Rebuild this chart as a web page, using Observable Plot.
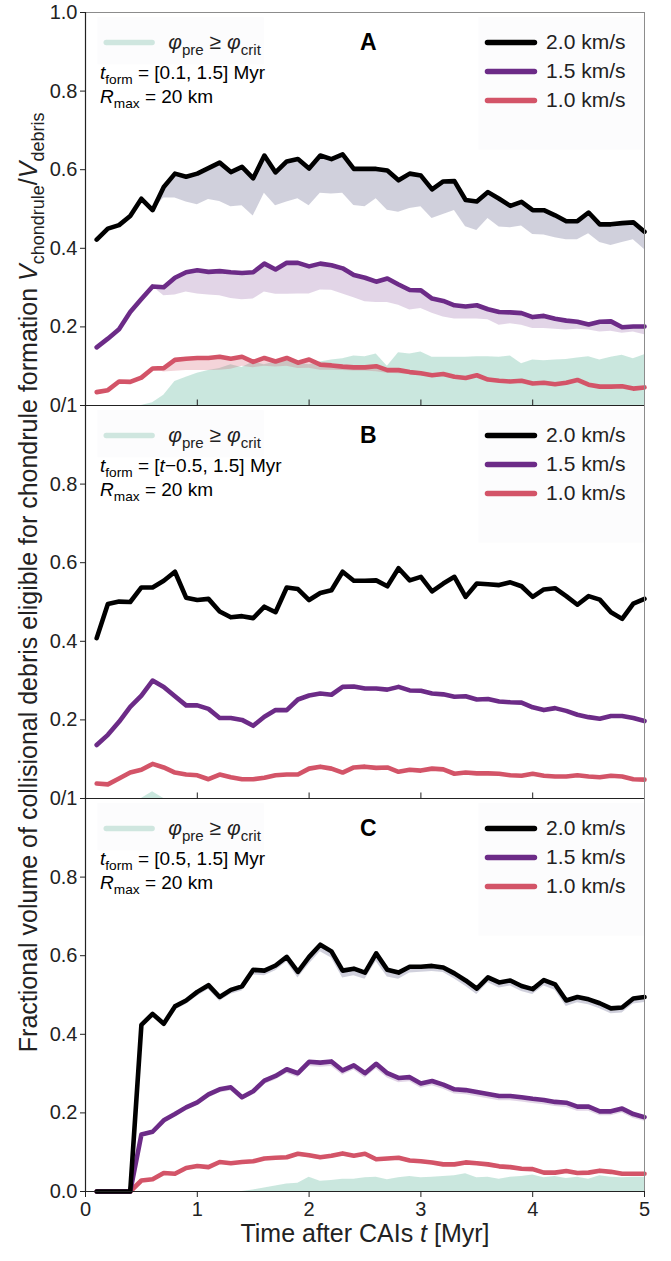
<!DOCTYPE html>
<html><head><meta charset="utf-8">
<script src="https://cdn.jsdelivr.net/npm/d3@7"></script>
<script src="https://cdn.jsdelivr.net/npm/@observablehq/plot@0.6"></script>
<style>body{margin:0;background:#fff}svg{display:block}</style>
</head><body><div id="chart"></div>
<script>
// ---------- data ----------
const times = [0.1,0.2,0.3,0.4,0.5,0.6,0.7,0.8,0.9,1.0,1.1,1.2,1.3,1.4,1.5,1.6,1.7,1.8,1.9,2.0,2.1,2.2,2.3,2.4,2.5,2.6,2.7,2.8,2.9,3.0,3.1,3.2,3.3,3.4,3.5,3.6,3.7,3.8,3.9,4.0,4.1,4.2,4.3,4.4,4.5,4.6,4.7,4.8,4.9,5.0];
const seriesLabels = ["1.0 km/s","1.5 km/s","2.0 km/s"];
const panelNames = ["A","B","C"];
const tformTexts = ["§tA","§tB","§tC"];
const xTicks = [0,1,2,3,4,5];
const yTickPos = [0,0.2,0.4,0.6,0.8,1,1.2,1.4,1.6,1.8,2,2.2,2.4,2.6,2.8,3];
const yTickLabels = ["0.0","0.2","0.4","0.6","0.8","0/1","0.2","0.4","0.6","0.8","0/1","0.2","0.4","0.6","0.8","1.0"];

// Panel A
const aBlack = [0.422,0.45,0.459,0.482,0.526,0.497,0.556,0.59,0.582,0.59,0.604,0.618,0.594,0.607,0.578,0.636,0.593,0.621,0.627,0.603,0.636,0.627,0.639,0.602,0.602,0.602,0.598,0.573,0.59,0.585,0.55,0.57,0.571,0.523,0.519,0.543,0.526,0.508,0.518,0.497,0.497,0.484,0.469,0.469,0.491,0.461,0.461,0.464,0.466,0.442];
const aBlackLo = [0.422,0.45,0.459,0.482,0.526,0.497,0.528,0.528,0.518,0.511,0.524,0.519,0.506,0.508,0.482,0.54,0.508,0.518,0.526,0.508,0.54,0.538,0.54,0.509,0.506,0.526,0.497,0.492,0.501,0.506,0.476,0.486,0.496,0.455,0.445,0.476,0.454,0.452,0.457,0.435,0.434,0.427,0.422,0.422,0.437,0.415,0.407,0.415,0.422,0.397];
const aPurple = [0.148,0.17,0.194,0.238,0.271,0.303,0.301,0.325,0.339,0.344,0.34,0.342,0.339,0.337,0.339,0.361,0.346,0.363,0.363,0.354,0.361,0.357,0.349,0.332,0.325,0.315,0.323,0.308,0.294,0.293,0.272,0.266,0.255,0.252,0.255,0.245,0.238,0.237,0.235,0.225,0.228,0.221,0.216,0.213,0.206,0.213,0.214,0.199,0.201,0.201];
const aPurpleLo = [0.148,0.17,0.194,0.238,0.271,0.303,0.279,0.281,0.289,0.284,0.281,0.279,0.272,0.269,0.271,0.289,0.283,0.283,0.284,0.284,0.294,0.293,0.284,0.274,0.264,0.262,0.262,0.255,0.243,0.247,0.235,0.225,0.22,0.22,0.22,0.218,0.204,0.208,0.204,0.196,0.196,0.194,0.192,0.194,0.192,0.187,0.189,0.184,0.187,0.18];
const aRed = [0.034,0.039,0.061,0.06,0.071,0.094,0.095,0.116,0.119,0.121,0.121,0.124,0.119,0.124,0.111,0.121,0.112,0.121,0.109,0.117,0.104,0.102,0.099,0.097,0.097,0.1,0.09,0.09,0.085,0.082,0.077,0.08,0.073,0.07,0.077,0.066,0.063,0.061,0.063,0.056,0.058,0.054,0.058,0.065,0.053,0.048,0.048,0.049,0.043,0.046];
const aRedLo = [0.034,0.039,0.061,0.06,0.071,0.094,0.085,0.087,0.089,0.089,0.089,0.09,0.092,0.1,0.096,0.1,0.098,0.1,0.094,0.095,0.09,0.09,0.089,0.088,0.088,0.086,0.082,0.081,0.079,0.076,0.072,0.074,0.068,0.065,0.071,0.062,0.059,0.057,0.059,0.052,0.054,0.05,0.054,0.06,0.049,0.045,0.045,0.046,0.04,0.043];
const aTeal = [0,0,0,0,0,0.007,0.026,0.061,0.072,0.082,0.089,0.094,0.104,0.097,0.111,0.104,0.111,0.114,0.109,0.104,0.111,0.116,0.119,0.126,0.124,0.131,0.1,0.134,0.131,0.136,0.123,0.123,0.123,0.123,0.124,0.124,0.123,0.126,0.106,0.116,0.114,0.116,0.117,0.121,0.124,0.116,0.123,0.128,0.119,0.129];

// Panel B
const bBlack = [0.408,0.495,0.501,0.5,0.537,0.537,0.554,0.577,0.511,0.505,0.508,0.476,0.461,0.464,0.459,0.488,0.474,0.537,0.533,0.505,0.523,0.53,0.577,0.554,0.554,0.555,0.54,0.586,0.555,0.564,0.527,0.547,0.564,0.513,0.547,0.545,0.543,0.55,0.54,0.513,0.532,0.535,0.515,0.493,0.515,0.506,0.474,0.457,0.496,0.508];
const bPurple = [0.136,0.162,0.195,0.233,0.262,0.3,0.284,0.26,0.237,0.237,0.228,0.205,0.205,0.2,0.185,0.208,0.225,0.225,0.252,0.262,0.267,0.264,0.284,0.285,0.28,0.28,0.277,0.284,0.275,0.274,0.267,0.265,0.259,0.26,0.252,0.253,0.247,0.245,0.244,0.232,0.225,0.23,0.223,0.213,0.207,0.203,0.21,0.21,0.205,0.197];
const bRed = [0.038,0.036,0.051,0.066,0.073,0.088,0.079,0.066,0.061,0.059,0.049,0.061,0.054,0.049,0.049,0.053,0.059,0.061,0.061,0.076,0.081,0.076,0.066,0.079,0.081,0.078,0.079,0.068,0.073,0.071,0.076,0.074,0.063,0.066,0.064,0.064,0.063,0.059,0.058,0.063,0.058,0.056,0.056,0.059,0.056,0.054,0.058,0.056,0.049,0.048];
const bTeal = [0,0,0,0,0,0.017,0,0,0,0,0,0,0,0,0,0,0,0,0,0,0,0,0,0,0,0,0,0,0,0,0,0,0,0,0,0,0,0,0,0,0,0,0,0,0,0,0,0,0,0];

// Panel C
const cBlack = [0,0,0,0,0.424,0.452,0.427,0.471,0.486,0.508,0.525,0.495,0.513,0.522,0.564,0.562,0.575,0.597,0.559,0.597,0.628,0.611,0.562,0.567,0.557,0.606,0.564,0.557,0.572,0.572,0.574,0.57,0.555,0.537,0.516,0.545,0.532,0.537,0.523,0.515,0.538,0.527,0.486,0.495,0.489,0.479,0.466,0.468,0.491,0.495];
const cBlackLo = [0,0,0,0,0.42,0.447,0.421,0.462,0.476,0.497,0.514,0.484,0.502,0.51,0.551,0.549,0.562,0.584,0.543,0.578,0.61,0.594,0.543,0.549,0.54,0.585,0.546,0.54,0.556,0.558,0.56,0.557,0.541,0.522,0.501,0.531,0.518,0.523,0.509,0.501,0.523,0.512,0.471,0.48,0.475,0.465,0.452,0.454,0.477,0.481];
const cPurple = [0,0,0,0,0.145,0.152,0.181,0.197,0.214,0.227,0.247,0.26,0.265,0.24,0.255,0.282,0.294,0.311,0.301,0.33,0.328,0.331,0.308,0.321,0.301,0.325,0.301,0.289,0.291,0.275,0.281,0.272,0.26,0.258,0.253,0.248,0.243,0.243,0.24,0.236,0.233,0.228,0.226,0.216,0.216,0.204,0.204,0.211,0.197,0.189];
const cPurpleLo = [0,0,0,0,0.14,0.146,0.174,0.19,0.206,0.219,0.238,0.251,0.256,0.232,0.246,0.272,0.284,0.3,0.29,0.318,0.316,0.318,0.296,0.309,0.289,0.312,0.289,0.277,0.279,0.263,0.269,0.26,0.248,0.246,0.241,0.236,0.231,0.231,0.228,0.224,0.221,0.216,0.214,0.204,0.204,0.193,0.193,0.2,0.186,0.179];
const cRed = [0,0,0,0,0.028,0.031,0.047,0.045,0.06,0.065,0.062,0.075,0.072,0.075,0.077,0.084,0.086,0.087,0.096,0.092,0.087,0.091,0.097,0.091,0.096,0.082,0.084,0.086,0.079,0.077,0.074,0.069,0.069,0.074,0.072,0.069,0.064,0.062,0.058,0.057,0.048,0.048,0.052,0.047,0.048,0.053,0.05,0.045,0.045,0.045];
const cRedLo = [0,0,0,0,0.025,0.028,0.043,0.041,0.055,0.06,0.057,0.07,0.067,0.07,0.072,0.078,0.08,0.081,0.09,0.086,0.081,0.085,0.091,0.085,0.09,0.076,0.078,0.08,0.073,0.071,0.068,0.063,0.063,0.068,0.066,0.063,0.058,0.056,0.052,0.051,0.043,0.043,0.047,0.042,0.043,0.048,0.045,0.04,0.04,0.04];
const cTeal = [0,0,0,0,0,0,0,0,0,0,0,0,0,0,0.004,0.009,0.014,0.019,0.021,0.036,0.026,0.028,0.031,0.031,0.035,0.036,0.03,0.035,0.038,0.035,0.036,0.038,0.04,0.045,0.035,0.036,0.031,0.036,0.038,0.042,0.035,0.038,0.033,0.036,0.031,0.04,0.036,0.035,0.036,0.036];

// ---------- styling ----------
const FONT = "'Liberation Sans', Arial, Helvetica, sans-serif";
const FS_TICK = 20, FS_LEG = 21, FS_NOTE = 19, FS_TITLE = 25, FS_PANEL = 23;
const lineColors = ["#d35468", "#6c2b87", "#000000"];
const bandColors = ["#d35468", "#6c2b87", "#3a3a6e"];
const bandOpacity = [0.25, 0.2, 0.24];
const tealColor = "#9fd3c3";

const panels = [
  {name: panelNames[0], off: 2, lines: [aRed, aPurple, aBlack], lows: [aRedLo, aPurpleLo, aBlackLo], teal: aTeal, tform: tformTexts[0]},
  {name: panelNames[1], off: 1, lines: [bRed, bPurple, bBlack], lows: [bRed, bPurple, bBlack], teal: bTeal, tform: tformTexts[1]},
  {name: panelNames[2], off: 0, lines: [cRed, cPurple, cBlack], lows: [cRedLo, cPurpleLo, cBlackLo], teal: cTeal, tform: tformTexts[2]}
];

const rows = [];
panels.forEach(p => p.lines.forEach((arr, si) => times.forEach((t, i) =>
  rows.push({panel: p.name, off: p.off, s: si, t, v: arr[i], lo: p.lows[si][i]}))));
const tealRows = panels.flatMap(p => times.map((t, i) => ({panel: p.name, off: p.off, t, v: p.teal[i]})));

const boundaryTicks = [1, 2].flatMap(b => [1, 2, 3, 4].map(x => ({x, y: b})));
const rowDy = [30, 59, 88];         // legend rows (px below panel top)
const legendOrder = [2, 1, 0];      // 2.0, 1.5, 1.0

const legendMarks = [];
legendOrder.forEach((si, k) => {
  legendMarks.push(Plot.ruleY(panels, {y: d => d.off + 1, dy: rowDy[k], x1: 3.6, x2: 4.02,
    stroke: lineColors[si], strokeWidth: 5.5, strokeLinecap: "round"}));
  legendMarks.push(Plot.text(panels, {y: d => d.off + 1, dy: rowDy[k], x: 4.12, text: () => seriesLabels[si],
    textAnchor: "start", fontSize: FS_LEG, fill: "#222"}));
});

const plot = Plot.plot({
  width: 671, height: 1261,
  marginLeft: 85, marginRight: 27, marginTop: 12, marginBottom: 70,
  style: {fontFamily: FONT, fontSize: FS_TICK + "px", color: "#222", background: "#fff"},
  x: {domain: [0, 5]},
  y: {domain: [0, 3]},
  marks: [
    // legend frames (very faint)
    Plot.rect(panels, {x1: 0.11, x2: 1.6, y1: d => d.off + 1 - 0.013, y2: d => d.off + 1 - 0.133, fill: "#f3f3f5", fillOpacity: 0.22}),
    Plot.rect(panels, {x1: 3.52, x2: 5, y1: d => d.off + 1 - 0.013, y2: d => d.off + 1 - 0.35, fill: "#f3f3f5", fillOpacity: 0.22}),
    // teal area
    Plot.areaY(tealRows, {x: "t", y1: d => d.off, y2: d => d.off + d.v, z: "panel", fill: tealColor, fillOpacity: 0.55}),
    // bands
    ...[0, 1, 2].map(si => Plot.areaY(rows.filter(r => r.s === si), {x: "t", y1: d => d.off + d.lo, y2: d => d.off + d.v, z: "panel",
      fill: bandColors[si], fillOpacity: bandOpacity[si]})),
    // lines
    ...[0, 1, 2].map(si => Plot.lineY(rows.filter(r => r.s === si), {x: "t", y: d => d.off + d.v, z: "panel",
      stroke: lineColors[si], strokeWidth: 4.6, strokeLinejoin: "round"})),
    // frame & spines
    Plot.frame({stroke: "#8c8c8c"}),
    Plot.ruleX([0], {stroke: "#222", strokeWidth: 1.2}),
    Plot.ruleY([0, 1, 2], {stroke: "#222", strokeWidth: 1.2}),
    Plot.ruleX(boundaryTicks, {x: "x", y1: "y", y2: d => d.y + 0.014, stroke: "#222"}),
    Plot.axisY(yTickPos, {tickFormat: d => yTickLabels[yTickPos.findIndex(p => Math.abs(p - d) < 1e-6)],
      tickSize: 5, tickPadding: 3, label: null, fontSize: FS_TICK}),
    Plot.axisX(xTicks, {tickFormat: d => String(d), tickSize: 6, tickPadding: 4, label: null, fontSize: FS_TICK}),
    // legends
    Plot.ruleY(panels, {y: d => d.off + 1, dy: rowDy[0], x1: 0.19, x2: 0.6, stroke: "#cfe6df", strokeWidth: 5.5, strokeLinecap: "round"}),
    Plot.text(panels, {y: d => d.off + 1, dy: rowDy[0], x: 0.74, text: () => "§phi", textAnchor: "start", fontSize: FS_LEG, fill: "#222"}),
    Plot.text(panels, {y: d => d.off + 1, dy: rowDy[0], x: 2.53, text: "name", fontSize: FS_PANEL, fontWeight: "bold", fill: "#000"}),
    Plot.text(panels, {y: d => d.off + 1, dy: 60, x: 0.13, text: "tform", textAnchor: "start", fontSize: FS_NOTE, fill: "#000"}),
    Plot.text(panels, {y: d => d.off + 1, dy: 84, x: 0.13, text: () => "§R", textAnchor: "start", fontSize: FS_NOTE, fill: "#000"}),
    ...legendMarks,
    // axis titles
    Plot.text(["§xlab"], {frameAnchor: "bottom", dy: 50, textAnchor: "middle", fontSize: FS_TITLE, fill: "#222"}),
    Plot.text(["§ylab"], {x: 0, y: 1.55, dx: -57, rotate: -90, textAnchor: "middle", fontSize: FS_TITLE, fill: "#222"})
  ]
});
document.getElementById("chart").appendChild(plot);

// ---------- rich text (italics & subscripts) ----------
const RICH = {
  "§phi": [{t: "φ", i: 1}, {t: "pre", s: 1}, {t: " ≥ "}, {t: "φ", i: 1}, {t: "crit", s: 1}],
  "§tA": [{t: "t", i: 1}, {t: "form", s: 1}, {t: " = [0.1, 1.5] Myr"}],
  "§tB": [{t: "t", i: 1}, {t: "form", s: 1}, {t: " = ["}, {t: "t", i: 1}, {t: "−0.5, 1.5] Myr"}],
  "§tC": [{t: "t", i: 1}, {t: "form", s: 1}, {t: " = [0.5, 1.5] Myr"}],
  "§R": [{t: "R", i: 1}, {t: "max", s: 1}, {t: " = 20 km"}],
  "§xlab": [{t: "Time after CAIs "}, {t: "t", i: 1}, {t: " [Myr]"}],
  "§ylab": [{t: "Fractional volume of collisional debris eligible for chondrule formation "}, {t: "V", i: 1}, {t: "chondrule", s: 1}, {t: "/"}, {t: "V", i: 1}, {t: "debris", s: 1}]
};
d3.select(plot).selectAll("text").each(function () {
  const segs = RICH[this.textContent];
  if (!segs) return;
  const fs = parseFloat(getComputedStyle(this).fontSize) || FS_TICK;
  this.textContent = "";
  let shift = 0;
  for (const sg of segs) {
    const ts = d3.select(this).append("tspan").text(sg.t);
    const target = sg.s ? 0.28 * fs : 0;
    if (target !== shift) { ts.attr("dy", target - shift); shift = target; }
    if (sg.s) ts.attr("font-size", 0.72 * fs);
    if (sg.i) ts.attr("font-style", "italic");
  }
});
</script>
</body></html>
